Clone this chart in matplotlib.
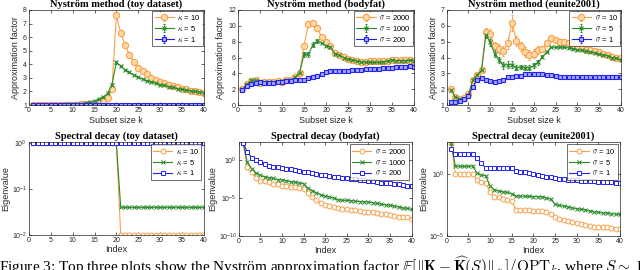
import numpy as np
import matplotlib
matplotlib.use("Agg")
import matplotlib.pyplot as plt

plt.rcParams['mathtext.fontset'] = 'cm'
plt.rcParams['font.family'] = ['Liberation Sans', 'DejaVu Sans']

k = np.arange(1, 41)

# --- Nystrom approximation factor (top row) ---
toy_labels = [r'$\kappa$ = 10', r'$\kappa$ = 5', r'$\kappa$ = 1']
toy_k10 = [1.0, 1.0, 1.0, 1.0, 1.0, 1.0, 1.0, 1.0, 1.02, 1.03, 1.03, 1.04, 1.05, 1.07, 1.1, 1.15,
           1.3, 1.5, 2.2, 7.6, 6.3, 5.45, 4.7, 4.15, 3.75, 3.5, 3.25, 3.0, 2.85, 2.7,
           2.6, 2.5, 2.4, 2.3, 2.2, 2.15, 2.05, 2.0, 1.95, 1.9]
toy_k5 = [1.0, 1.0, 1.0, 1.0, 1.0, 1.02, 1.02, 1.03, 1.04, 1.05, 1.08, 1.1, 1.15, 1.2, 1.3, 1.45,
          1.6, 1.85, 2.5, 4.15, 3.85, 3.6, 3.4, 3.2, 3.05, 2.9, 2.8, 2.7, 2.6, 2.5,
          2.45, 2.35, 2.3, 2.2, 2.15, 2.1, 2.05, 2.0, 1.95, 1.9]
toy_k1 = [1.0] * 40
toy_err = {0: {19: 0.2, 20: 0.15, 21: 0.12, 22: 0.1, 23: 0.08}, 1: {19: 0.1, 18: 0.1}, 2: {}}

body_labels = [r'$\sigma$ = 2000', r'$\sigma$ = 1000', r'$\sigma$ = 200']
body_s2000 = [2.0, 2.6, 3.0, 3.1, 2.8, 2.9, 2.9, 2.95, 3.0, 2.95, 3.1, 3.2, 3.5, 4.0, 7.5, 10.2,
              10.3, 9.7, 8.6, 7.9, 7.4, 6.6, 6.3, 6.1, 5.85, 5.7, 5.6, 5.45, 5.45, 5.5,
              5.5, 5.5, 5.5, 5.55, 5.7, 5.65, 5.65, 5.65, 5.65, 5.6]
body_s1000 = [2.0, 2.6, 3.1, 3.15, 2.8, 2.85, 2.85, 2.9, 2.95, 3.0, 3.1, 3.2, 3.5, 4.1, 6.4, 6.4,
              7.6, 8.1, 7.8, 7.5, 7.3, 6.5, 6.3, 6.0, 5.8, 5.7, 5.55, 5.45, 5.4, 5.4,
              5.4, 5.4, 5.45, 5.55, 5.7, 5.6, 5.6, 5.6, 5.65, 5.6]
body_s200 = [1.95, 2.45, 2.6, 2.75, 2.9, 2.75, 2.75, 2.8, 2.85, 2.9, 3.0, 3.05, 3.1, 3.1, 3.2, 3.35,
             3.5, 3.7, 3.95, 4.2, 4.3, 4.3, 4.35, 4.3, 4.35, 4.4, 4.45, 4.45, 4.5, 4.5,
             4.55, 4.6, 4.65, 4.65, 4.7, 4.75, 4.8, 4.85, 4.9, 4.85]
body_err = {0: {2: 0.2, 3: 0.2, 14: 0.3, 15: 0.4, 16: 0.35, 17: 0.3, 18: 0.25},
            1: {2: 0.2, 3: 0.2, 14: 0.3, 15: 0.3, 16: 0.3, 17: 0.3}, 2: {}}

eun_labels = [r'$\sigma$ = 10', r'$\sigma$ = 5', r'$\sigma$ = 1']
eun_s10 = [2.0, 1.5, 1.4, 1.45, 1.7, 2.55, 2.9, 3.2, 5.6, 5.5, 4.7, 4.55, 4.4, 4.9, 6.2, 5.05,
           4.7, 4.35, 4.15, 4.25, 4.5, 4.55, 4.9, 5.25, 5.1, 5.0, 4.95, 4.9, 4.8, 4.7,
           4.6, 4.5, 4.45, 4.4, 4.35, 4.25, 4.15, 4.05, 4.0, 3.95]
eun_s5 = [1.95, 1.5, 1.4, 1.4, 1.65, 2.6, 2.9, 3.2, 5.45, 4.95, 4.25, 3.85, 3.5, 3.55, 3.55, 3.35,
          3.4, 3.35, 3.35, 3.5, 3.7, 4.05, 4.35, 4.65, 4.65, 4.65, 4.65, 4.6, 4.55, 4.5,
          4.45, 4.4, 4.35, 4.3, 4.2, 4.15, 4.1, 4.0, 3.95, 3.85]
eun_s1 = [1.2, 1.2, 1.25, 1.4, 1.6, 2.15, 2.6, 2.7, 2.6, 2.5, 2.45, 2.5, 2.6, 2.75, 2.8, 2.85,
          2.85, 2.95, 2.95, 2.95, 2.95, 2.95, 2.9, 2.9, 2.85, 2.8, 2.8, 2.8, 2.8, 2.75,
          2.75, 2.75, 2.75, 2.75, 2.75, 2.75, 2.75, 2.75, 2.75, 2.75]
eun_err = {0: {8: 0.25, 9: 0.3, 10: 0.3, 11: 0.3, 12: 0.3, 13: 0.35, 14: 0.5, 15: 0.3, 16: 0.3,
               17: 0.3, 18: 0.3, 19: 0.3, 20: 0.25, 21: 0.2, 22: 0.15, 23: 0.1},
           1: {8: 0.2, 9: 0.2, 10: 0.2, 11: 0.2, 12: 0.2, 13: 0.2, 14: 0.2, 15: 0.15, 16: 0.15,
               17: 0.15, 18: 0.15, 19: 0.15, 20: 0.15, 21: 0.1},
           2: {}}

# --- Spectral decay (bottom row), stored as log10 of eigenvalue ---
toy_eig = [[0.0] * 20 + [-2.0] * 20,
           [0.0] * 20 + [-1.4] * 20,
           [0.0] * 40]
body_eig = [[2.3, -0.9, -1.6, -2.3, -2.8, -2.75, -2.9, -3.1, -3.2, -3.35, -3.4, -3.5, -3.6, -3.7, -3.8, -4.3,
             -4.9, -5.3, -5.6, -5.9, -6.05, -6.2, -6.3, -6.4, -6.5, -6.6, -6.6, -6.7, -6.8, -6.85,
             -6.9, -7.0, -7.05, -7.15, -7.2, -7.3, -7.45, -7.5, -7.55, -7.7],
            [2.3, -0.3, -1.1, -1.7, -2.0, -2.2, -2.3, -2.4, -2.55, -2.6, -2.7, -2.85, -2.9, -3.0, -3.1, -3.7,
             -4.0, -4.3, -4.55, -4.75, -4.85, -5.0, -5.2, -5.3, -5.3, -5.35, -5.4, -5.45, -5.5, -5.5,
             -5.6, -5.7, -5.8, -5.9, -5.95, -6.05, -6.2, -6.3, -6.35, -6.5],
            [2.3, 1.05, 0.35, 0.0, -0.2, -0.55, -0.75, -0.85, -0.95, -1.0, -1.1, -1.2, -1.3, -1.45, -1.55, -1.6,
             -1.7, -1.8, -1.9, -2.0, -2.1, -2.2, -2.25, -2.3, -2.4, -2.45, -2.5, -2.55, -2.6, -2.7,
             -2.8, -2.85, -2.95, -3.0, -3.05, -3.15, -3.2, -3.3, -3.35, -3.45]]
eun_eig = [[2.5, 0.0, 0.0, 0.0, 0.0, 0.0, -0.5, -0.65, -0.75, -1.45, -1.85, -1.9, -2.0, -2.1, -2.2, -2.95,
            -2.95, -2.95, -2.95, -2.97, -3.0, -3.0, -3.1, -3.2, -3.45, -3.65, -3.7, -3.8, -3.85, -3.95,
            -4.05, -4.15, -4.2, -4.25, -4.25, -4.3, -4.3, -4.35, -4.4, -4.4],
           [2.5, 0.6, 0.6, 0.6, 0.6, 0.6, 0.05, -0.1, -0.15, -1.0, -1.3, -1.4, -1.45, -1.5, -1.6, -1.8,
            -1.8, -1.8, -1.82, -1.83, -1.84, -1.85, -1.95, -2.05, -2.45, -2.55, -2.6, -2.65, -2.75, -2.8,
            -2.85, -2.9, -3.0, -3.05, -3.1, -3.15, -3.15, -3.2, -3.25, -3.25],
           [1.95, 1.55, 1.55, 1.55, 1.55, 1.55, 1.25, 0.85, 0.45, 0.45, 0.45, 0.45, 0.45, 0.45, 0.43, 0.2,
            0.15, 0.15, 0.05, -0.05, -0.1, -0.15, -0.25, -0.3, -0.35, -0.4, -0.45, -0.5, -0.5, -0.52,
            -0.55, -0.57, -0.6, -0.62, -0.64, -0.66, -0.68, -0.7, -0.72, -0.75]]

colors = ['#F9A04A', '#2A8A2A', '#2222F0']
light = ['#FFD9A8', '#9FD49F', '#A8A8FF']
tick_col = '#262626'

fig = plt.figure(figsize=(6.4, 2.7), dpi=100)


def style(ax):
    ax.tick_params(direction='in', top=True, right=True, labelsize=5, colors=tick_col,
                   length=2, width=0.5, pad=1.5)
    for s in ax.spines.values():
        s.set_linewidth(0.5)
        s.set_color(tick_col)


def top_panel(rect, title, labels, series, errs, ylim, yticks):
    ax = fig.add_axes(rect)
    markers = ['o', 'x', 's']
    sizes = [4.5, 2.5, 3]
    for i, y in enumerate(series):
        e = np.zeros(40)
        for j, v in errs[i].items():
            e[j] = v
        ax.errorbar(k, y, yerr=e, color=colors[i], lw=0.8, marker=markers[i], ms=sizes[i],
                    mfc=light[i], mec=colors[i], mew=0.8, elinewidth=0.6, capsize=1,
                    ecolor=colors[i], label=labels[i])
    ax.set_xlim(0, 40)
    ax.set_ylim(*ylim)
    ax.set_xticks(np.arange(0, 41, 5))
    ax.set_yticks(yticks)
    style(ax)
    ax.set_title(title, fontsize=7.5, fontweight='bold', family='Liberation Serif', pad=2)
    ax.set_xlabel('Subset size k', fontsize=6.5, color=tick_col, labelpad=1)
    ax.set_ylabel('Approximation factor', fontsize=6.5, color=tick_col, labelpad=2)
    leg = ax.legend(loc='upper right', fontsize=5.5, frameon=True, fancybox=False,
                    borderaxespad=0.1, handlelength=2.5, borderpad=0.3, labelspacing=0.25,
                    handletextpad=0.5)
    leg.get_frame().set_edgecolor('black')
    leg.get_frame().set_linewidth(0.5)
    return ax


def bottom_panel(rect, title, labels, logs, ylim, yticks):
    ax = fig.add_axes(rect)
    markers = ['o', 'x', 's']
    sizes = [3.5, 2.5, 2.5]
    for i, lv in enumerate(logs):
        ax.semilogy(k, 10.0 ** np.array(lv), color=colors[i], lw=0.8, marker=markers[i],
                    ms=sizes[i], mfc='white' if i != 1 else colors[i], mec=colors[i],
                    mew=0.7, label=labels[i])
    ax.set_xlim(0, 40)
    ax.set_ylim(*ylim)
    ax.set_xticks(np.arange(0, 41, 5))
    ax.set_yticks(yticks)
    ax.minorticks_off()
    style(ax)
    ax.set_title(title, fontsize=7.5, fontweight='bold', family='Liberation Serif', pad=2)
    ax.set_xlabel('Index', fontsize=6.5, color=tick_col, labelpad=1)
    ax.set_ylabel('Eigenvalue', fontsize=6.5, color=tick_col, labelpad=1)
    leg = ax.legend(loc='upper right', fontsize=5.5, frameon=True, fancybox=False,
                    borderaxespad=0.3, handlelength=2.5, borderpad=0.3, labelspacing=0.25,
                    handletextpad=0.5)
    leg.get_frame().set_edgecolor('black')
    leg.get_frame().set_linewidth(0.5)
    return ax


top_panel([0.0453, 0.611, 0.273, 0.352], 'Nyström method (toy dataset)', toy_labels,
          [toy_k10, toy_k5, toy_k1], toy_err, (1, 8), np.arange(1, 9))
top_panel([0.372, 0.611, 0.275, 0.352], 'Nyström method (bodyfat)', body_labels,
          [body_s2000, body_s1000, body_s200], body_err, (0, 12), np.arange(0, 13, 2))
top_panel([0.698, 0.611, 0.272, 0.352], 'Nyström method (eunite2001)', eun_labels,
          [eun_s10, eun_s5, eun_s1], eun_err, (1, 7), np.arange(1, 8))

bottom_panel([0.0453, 0.130, 0.273, 0.344], 'Spectral decay (toy dataset)', toy_labels,
             toy_eig, (1e-2, 1.05), [1e-2, 1e-1, 1e0])
bottom_panel([0.373, 0.126, 0.270, 0.348], 'Spectral decay (bodyfat)', body_labels,
             body_eig, (1e-10, 10 ** 2.4), [1e-10, 1e-5, 1e0])
bottom_panel([0.698, 0.126, 0.271, 0.348], 'Spectral decay (eunite2001)', eun_labels,
             eun_eig, (1e-5, 10 ** 2.55), [1e-5, 1e0])

# figure caption, cropped at the bottom edge as in the source page
fig.text(-0.002, -0.006,
         r'Figure 3: Top three plots show the Nyström approximation factor '
         r'$\mathbb{E}[\Vert\mathbf{K}-\widehat{\mathbf{K}}(S)\Vert_*]/\mathrm{OPT}_k$, where $S\sim$ '
         r'DPP$_k$',
         fontsize=11, family='Liberation Serif', va='baseline', ha='left')

fig.savefig('out.png', dpi=100)
